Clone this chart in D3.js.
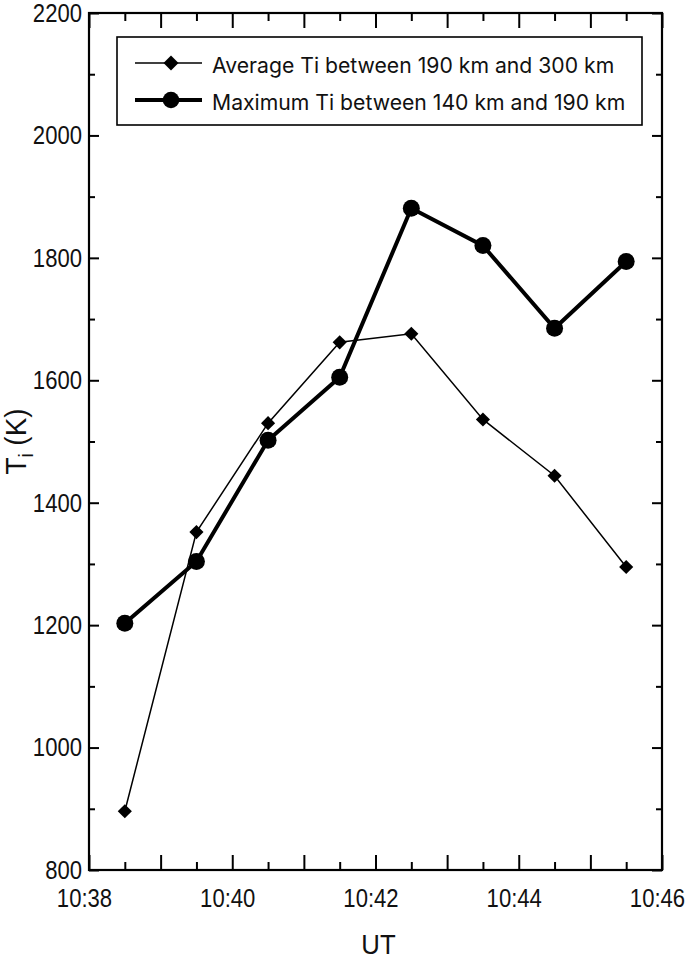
<!DOCTYPE html>
<html>
<head>
<meta charset="utf-8">
<script src="https://cdn.jsdelivr.net/npm/d3@7"></script>
<style>
  html, body { margin: 0; padding: 0; background: #fff; }
  svg { display: block; }
</style>
</head>
<body>
<svg id="chart" width="685" height="961"></svg>
<script>
// ---- data ----
const times = ["10:38:30", "10:39:30", "10:40:30", "10:41:30", "10:42:30", "10:43:30", "10:44:30", "10:45:30"];
const avgTi = [896, 1352, 1530, 1662, 1676, 1536, 1444, 1295];
const maxTi = [1203, 1304, 1502, 1605, 1881, 1820, 1685, 1794];
const seriesNames = ["Average Ti between 190 km and 300 km", "Maximum Ti between 140 km and 190 km"];
const xTickLabels = ["10:38", "10:40", "10:42", "10:44", "10:46"];
const yTickLabels = [800, 1000, 1200, 1400, 1600, 1800, 2000, 2200];
const xDomain = ["10:38:00", "10:46:00"];
const yDomain = [800, 2200];

(function () {
const svg = d3.select("#chart");
const pL = 89, pR = 662, pT = 13, pB = 870;
const parse = d3.timeParse("%H:%M:%S");
const fmt = d3.timeFormat("%H:%M");

const x = d3.scaleTime().domain(xDomain.map(parse)).range([pL, pR]);
const y = d3.scaleLinear().domain(yDomain).range([pB, pT]);

const sans = "'Liberation Sans', Arial, sans-serif";
const cond = 0.85;

const xMinor = d3.timeMinute.every(1).range(x.domain()[0], x.domain()[1]).map(d => new Date(d.getTime() + 30000));
const xMajor = d3.timeMinute.every(1).range(x.domain()[0], new Date(x.domain()[1].getTime() + 1));
const labelSet = new Set(xTickLabels);

function styleAxis(g) {
  g.select(".domain").remove();
  g.selectAll(".tick line").attr("stroke", "#000").attr("stroke-width", 2);
  g.selectAll(".tick text").attr("fill", "#111").attr("font-family", sans).attr("font-size", 26)
    .attr("transform", `scale(${cond},1)`)
    .attr("x", function () { return (+this.getAttribute("x") || 0) / cond; });
}

// bottom
svg.append("g").attr("transform", `translate(0,${pB})`)
  .call(d3.axisBottom(x).tickValues(xMinor).tickSize(-8).tickFormat(""))
  .call(styleAxis);
svg.append("g").attr("transform", `translate(0,${pB})`)
  .call(d3.axisBottom(x).tickValues(xMajor).tickSize(-15).tickPadding(19)
    .tickFormat(d => labelSet.has(fmt(d)) ? fmt(d) : ""))
  .call(styleAxis)
  .call(g => g.selectAll(".tick text").attr("x", -5 / cond));
// top
svg.append("g").attr("transform", `translate(0,${pT})`)
  .call(d3.axisTop(x).tickValues(xMinor).tickSize(-8).tickFormat(""))
  .call(styleAxis);
svg.append("g").attr("transform", `translate(0,${pT})`)
  .call(d3.axisTop(x).tickValues(xMajor).tickSize(-15).tickFormat(""))
  .call(styleAxis);

// y
const yMinor = d3.range(yDomain[0] + 100, yDomain[1], 200);
svg.append("g").attr("transform", `translate(${pL},0)`)
  .call(d3.axisLeft(y).tickValues(yMinor).tickSize(-6).tickFormat(""))
  .call(styleAxis);
svg.append("g").attr("transform", `translate(${pL},0)`)
  .call(d3.axisLeft(y).tickValues(yTickLabels).tickSize(-10).tickPadding(7).tickFormat(d3.format("d")))
  .call(styleAxis);
svg.append("g").attr("transform", `translate(${pR},0)`)
  .call(d3.axisRight(y).tickValues(yMinor).tickSize(-6).tickFormat(""))
  .call(styleAxis);
svg.append("g").attr("transform", `translate(${pR},0)`)
  .call(d3.axisRight(y).tickValues(yTickLabels).tickSize(-10).tickFormat(""))
  .call(styleAxis);

// frame
svg.append("rect").attr("x", pL).attr("y", pT).attr("width", pR - pL).attr("height", pB - pT)
  .attr("fill", "none").attr("stroke", "#000").attr("stroke-width", 2.2);

// axis titles
svg.append("text").attr("transform", `translate(${(pL + pR) / 2 + 3},954) scale(0.92,1)`)
  .attr("text-anchor", "middle")
  .attr("font-family", sans).attr("font-size", 28).attr("fill", "#111").text("UT");
const yt = svg.append("text").attr("transform", `translate(26,${(pT + pB) / 2}) rotate(-90) scale(0.93,1)`)
  .attr("text-anchor", "middle").attr("font-family", sans).attr("font-size", 30).attr("fill", "#111");
yt.append("tspan").text("T");
yt.append("tspan").attr("font-size", 20).attr("dy", 7).text("i");
yt.append("tspan").attr("dy", -7).text(" (K)");

// ---- series ----
const pts = (vals) => times.map((t, i) => [x(parse(t)), y(vals[i])]);
const line = d3.line();
const diamond = d3.symbol().type(d3.symbolSquare).size(100);

const avgPts = pts(avgTi), maxPts = pts(maxTi);

svg.append("path").attr("d", line(avgPts)).attr("fill", "none").attr("stroke", "#000").attr("stroke-width", 1.5);
svg.append("path").attr("d", line(maxPts)).attr("fill", "none").attr("stroke", "#000").attr("stroke-width", 4);

svg.selectAll(".dia").data(avgPts).join("path").attr("class", "dia")
  .attr("transform", d => `translate(${d[0]},${d[1]}) rotate(45)`).attr("d", diamond).attr("fill", "#000");
svg.selectAll(".cir").data(maxPts).join("circle").attr("class", "cir")
  .attr("cx", d => d[0]).attr("cy", d => d[1]).attr("r", 8.5).attr("fill", "#000");

// ---- legend ----
const lg = svg.append("g");
lg.append("rect").attr("x", 117).attr("y", 37).attr("width", 525).attr("height", 88)
  .attr("fill", "#fff").attr("stroke", "#000").attr("stroke-width", 1.6);
const rows = [63, 100];
rows.forEach((ry, i) => {
  lg.append("line").attr("x1", 135).attr("x2", 202).attr("y1", ry).attr("y2", ry)
    .attr("stroke", "#000").attr("stroke-width", i === 0 ? 1.5 : 4);
  if (i === 0) {
    lg.append("path").attr("transform", `translate(171,${ry}) rotate(45)`)
      .attr("d", d3.symbol().type(d3.symbolSquare).size(112)).attr("fill", "#000");
  } else {
    lg.append("circle").attr("cx", 171).attr("cy", ry).attr("r", 8.3).attr("fill", "#000");
  }
  lg.append("text").attr("x", 212).attr("y", ry + 10).attr("font-family", "Inter, 'Open Sans', sans-serif")
    .attr("font-size", 21.2).attr("fill", "#111").text(seriesNames[i]);
});
})();
</script>
</body>
</html>
